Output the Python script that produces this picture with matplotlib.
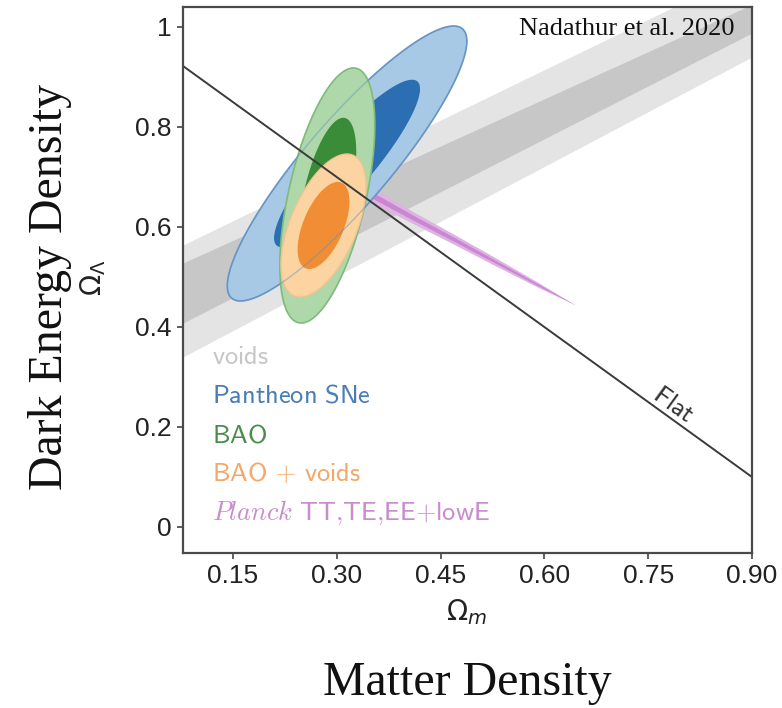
import numpy as np
import matplotlib
matplotlib.use("Agg")
import matplotlib.pyplot as plt

# axis ranges and ticks
om_lim = (0.078, 0.90)
ol_lim = (-0.052, 1.04)
x_ticks = [0.15, 0.30, 0.45, 0.60, 0.75, 0.90]
x_ticklabels = ["0.15", "0.30", "0.45", "0.60", "0.75", "0.90"]
y_ticks = [0.0, 0.2, 0.4, 0.6, 0.8, 1.0]
y_ticklabels = ["0", "0.2", "0.4", "0.6", "0.8", "1"]

# voids band: edges of the 68% / 95% regions at both ends of the Omega_m range
voids_om = [0.078, 0.90]
voids_lo95 = [0.340, 0.940]
voids_lo68 = [0.408, 0.988]
voids_hi68 = [0.528, 1.045]
voids_hi95 = [0.564, 1.116]

# gaussian approximations of the closed contours: (mean Om, mean OL), (sigma Om, sigma OL), correlation
sne_mean, sne_sigma, sne_rho = (0.315, 0.727), (0.0696, 0.1106), 0.89
bao_mean, bao_sigma, bao_rho = (0.2865, 0.663), (0.0276, 0.1026), 0.55
baov_mean, baov_sigma, baov_rho = (0.281, 0.603), (0.0247, 0.0575), 0.55

# Planck degeneracy sliver: centre line and vertical half widths
planck_om = [0.330, 0.360, 0.410, 0.470, 0.530, 0.590, 0.645]
planck_ol = [0.679, 0.657, 0.619, 0.575, 0.530, 0.485, 0.444]
planck_w95 = [0.015, 0.014, 0.012, 0.010, 0.008, 0.005, 0.0]
planck_w68 = [0.006, 0.006, 0.005, 0.004, 0.003, 0.002, 0.0]

# flat universe line
flat_om = [0.0, 1.0]
flat_ol = [1.0, 0.0]

legend_labels = [r"$\mathsf{voids}$",
                 r"$\mathsf{Pantheon\ SNe}$",
                 r"$\mathsf{BAO}$",
                 r"$\mathsf{BAO}\,+\,\mathsf{voids}$",
                 r"$\mathit{Planck}\ \mathsf{TT{,}TE{,}EE{+}lowE}$"]
legend_colors = ["#c6c6c6", "#4a7db4", "#4b8c4b", "#f2a868", "#c98ccd"]

K68, K95 = 1.515, 2.486


def gauss_contour(mean, sigma, rho, k, n=300):
    c = rho * sigma[0] * sigma[1]
    cov = np.array([[sigma[0] ** 2, c], [c, sigma[1] ** 2]])
    L = np.linalg.cholesky(cov)
    t = np.linspace(0, 2 * np.pi, n)
    xy = L @ (k * np.vstack([np.cos(t), np.sin(t)]))
    return mean[0] + xy[0], mean[1] + xy[1]


W, H = 782, 708
fig = plt.figure(figsize=(W / 100, H / 100), dpi=100)
ax = fig.add_axes([183 / W, 1 - 553 / H, 569 / W, 546 / H])

# voids band
ax.fill_between(voids_om, voids_lo95, voids_hi95, color="#e4e4e4", lw=0, zorder=1)
ax.fill_between(voids_om, voids_lo68, voids_hi68, color="#c7c7c7", lw=0, zorder=1.1)

# Planck
om = np.array(planck_om); ol = np.array(planck_ol)
ax.fill_between(om, ol - planck_w95, ol + planck_w95, color="#e0b2e4", lw=0, zorder=2)
ax.fill_between(om, ol - planck_w68, ol + planck_w68, color="#c888cf", lw=0, zorder=2.1)

# Pantheon SNe
x, y = gauss_contour(sne_mean, sne_sigma, sne_rho, K95)
ax.fill(x, y, fc="#a7c9e6", ec="#6f9cc8", lw=1.2, zorder=3)
sne_edge = (x, y)
x, y = gauss_contour(sne_mean, sne_sigma, sne_rho, K68)
ax.fill(x, y, fc="#2b6eb2", lw=0, zorder=3.1)

# BAO
x, y = gauss_contour(bao_mean, bao_sigma, bao_rho, K95)
ax.fill(x, y, fc="#aed8a9", ec="#7fba7a", lw=1.2, zorder=4)
x, y = gauss_contour(bao_mean, bao_sigma, bao_rho, K68)
ax.fill(x, y, fc="#3a8c38", lw=0, zorder=4.1)

# BAO + voids
x, y = gauss_contour(baov_mean, baov_sigma, baov_rho, K95)
ax.fill(x, y, fc="#fcd4a2", ec="#f3c28e", lw=1.0, zorder=5)
x, y = gauss_contour(baov_mean, baov_sigma, baov_rho, K68)
ax.fill(x, y, fc="#f18d34", lw=0, zorder=5.1)

# outline of the SNe contour stays visible through the others
ax.plot(*sne_edge, color="#5f8fc0", lw=1.0, alpha=0.45, zorder=5.5)

# flat line
ax.plot(flat_om, flat_ol, color="#3a3a3a", lw=1.4, zorder=6)
ax.text(0.787, 0.244, r"$\mathsf{Flat}$", fontsize=19, math_fontfamily="cm",
        color="#333333", rotation=-45, transform_rotates_text=True,
        rotation_mode="anchor", ha="center", va="center", zorder=7)

ax.set_xlim(*om_lim)
ax.set_ylim(*ol_lim)
ax.set_xticks(x_ticks)
ax.set_xticklabels(x_ticklabels)
ax.set_yticks(y_ticks)
ax.set_yticklabels(y_ticklabels)
for lab in ax.get_xticklabels() + ax.get_yticklabels():
    lab.set_family("Liberation Sans")
    lab.set_fontsize(19)
    lab.set_color("#222222")
ax.tick_params(direction="out", length=4, width=1.2, color="#444444", pad=4)
for s in ax.spines.values():
    s.set_color("#4a4a4a")
    s.set_linewidth(1.6)
    s.set_zorder(8)

# legend as coloured text
ly = [0.359, 0.288, 0.216, 0.145, 0.073]
for lab, col, yy in zip(legend_labels, legend_colors, ly):
    ax.text(0.051, yy, lab, transform=ax.transAxes, color=col, fontsize=19,
            math_fontfamily="cm", ha="left", va="center", zorder=9)

ax.text(0.970, 0.9487, "Nadathur et al. 2020", transform=ax.transAxes,
        family="Liberation Serif", fontsize=19, ha="right", va="baseline",
        color="#111111", zorder=9)

# symbol labels
fig.text(93 / W, 1 - 278 / H, r"$\Omega_\Lambda$", rotation=90, ha="center",
         va="center", fontsize=20, family="Liberation Sans",
         math_fontfamily="dejavusans", color="#222222")
fig.text(467 / W, 1 - 612 / H, r"$\Omega_m$", ha="center", va="center",
         fontsize=20, family="Liberation Sans", math_fontfamily="dejavusans",
         color="#222222")

# descriptive labels
fig.text(62 / W, 1 - 287 / H, "Dark Energy Density", rotation=90,
         rotation_mode="anchor", ha="center", va="baseline",
         family="Liberation Serif", fontsize=34.5, color="#111111")
fig.text(467 / W, 1 - 695 / H, "Matter Density", ha="center", va="baseline",
         family="Liberation Serif", fontsize=34.5, color="#111111")

fig.savefig("out.png", dpi=100)
